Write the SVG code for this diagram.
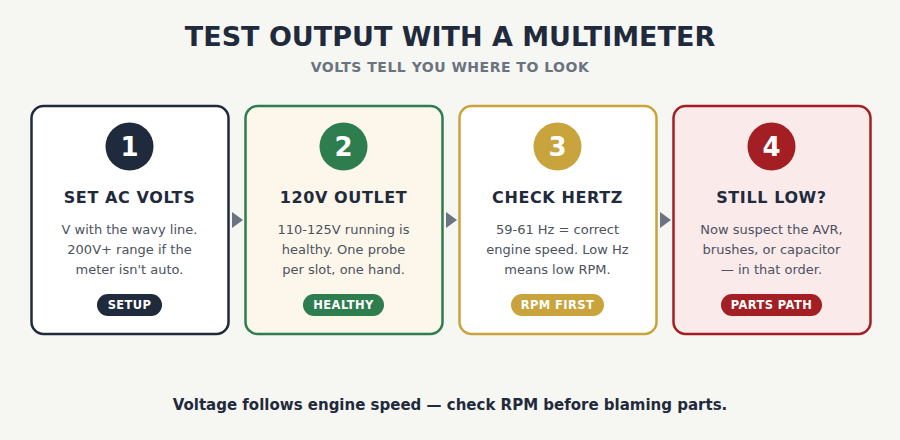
<svg xmlns="http://www.w3.org/2000/svg" width="900" height="440" viewBox="0 0 900 440">
<defs>
<style>
.bg{fill:#f6f6f2}
.title{font-family:"DejaVu Sans",sans-serif;font-weight:bold;font-size:27px;fill:#1f2a3c;text-anchor:middle}
.sub{font-family:"DejaVu Sans",sans-serif;font-weight:bold;font-size:14px;letter-spacing:0.5px;fill:#6b7280;text-anchor:middle}
.card{stroke-width:2.5}
.num{font-family:"DejaVu Sans",sans-serif;font-weight:bold;font-size:26px;fill:#ffffff;text-anchor:middle}
.head{font-family:"DejaVu Sans",sans-serif;font-weight:bold;font-size:16px;letter-spacing:0.6px;fill:#1f2a3c;text-anchor:middle}
.body{font-family:"DejaVu Sans",sans-serif;font-size:13px;fill:#4b5260;text-anchor:middle}
.pilltxt{font-family:"DejaVu Sans",sans-serif;font-weight:bold;font-size:11.5px;letter-spacing:0.4px;fill:#ffffff;text-anchor:middle}
.arrow{fill:#6b7280}
.foot{font-family:"DejaVu Sans",sans-serif;font-weight:bold;font-size:15px;fill:#1f2a3c;text-anchor:middle}
</style>
</defs>
<rect class="bg" x="0" y="0" width="900" height="440"/>
<text class="title" x="450" y="46">TEST OUTPUT WITH A MULTIMETER</text>
<text class="sub" x="450" y="72">VOLTS TELL YOU WHERE TO LOOK</text>

<g id="connectors">
<polygon class="arrow" points="232,212 243,220 232,228"/>
<polygon class="arrow" points="446,212 457,220 446,228"/>
<polygon class="arrow" points="660,212 671,220 660,228"/>
</g>

<g id="step1">
<rect class="card" x="31.5" y="106" width="197" height="228" rx="12" fill="#ffffff" stroke="#1f2a3c"/>
<circle cx="129.5" cy="146.5" r="24" fill="#1f2a3c"/>
<text class="num" x="129.5" y="155.5">1</text>
<text class="head" x="129.5" y="203">SET AC VOLTS</text>
<text class="body" x="129.5" y="234">V with the wavy line.</text>
<text class="body" x="129.5" y="254">200V+ range if the</text>
<text class="body" x="129.5" y="274">meter isn't auto.</text>
<rect x="97" y="294" width="65" height="22" rx="11" fill="#1f2a3c"/>
<text class="pilltxt" x="129.5" y="309">SETUP</text>
</g>

<g id="step2">
<rect class="card" x="245.5" y="106" width="197" height="228" rx="12" fill="#fdf6ea" stroke="#2e7d4f"/>
<circle cx="343.5" cy="146.5" r="24" fill="#2e7d4f"/>
<text class="num" x="343.5" y="155.5">2</text>
<text class="head" x="343.5" y="203">120V OUTLET</text>
<text class="body" x="343.5" y="234">110-125V running is</text>
<text class="body" x="343.5" y="254">healthy. One probe</text>
<text class="body" x="343.5" y="274">per slot, one hand.</text>
<rect x="303" y="294" width="81" height="22" rx="11" fill="#2e7d4f"/>
<text class="pilltxt" x="343.5" y="309">HEALTHY</text>
</g>

<g id="step3">
<rect class="card" x="459.5" y="106" width="197" height="228" rx="12" fill="#ffffff" stroke="#c9a33b"/>
<circle cx="557.5" cy="146.5" r="24" fill="#c9a33b"/>
<text class="num" x="557.5" y="155.5">3</text>
<text class="head" x="557.5" y="203">CHECK HERTZ</text>
<text class="body" x="557.5" y="234">59-61 Hz = correct</text>
<text class="body" x="557.5" y="254">engine speed. Low Hz</text>
<text class="body" x="557.5" y="274">means low RPM.</text>
<rect x="511" y="294" width="93" height="22" rx="11" fill="#c9a33b"/>
<text class="pilltxt" x="557.5" y="309">RPM FIRST</text>
</g>

<g id="step4">
<rect class="card" x="673.5" y="106" width="197" height="228" rx="12" fill="#faeaea" stroke="#a31f24"/>
<circle cx="771.5" cy="146.5" r="24" fill="#a31f24"/>
<text class="num" x="771.5" y="155.5">4</text>
<text class="head" x="771.5" y="203">STILL LOW?</text>
<text class="body" x="771.5" y="234">Now suspect the AVR,</text>
<text class="body" x="771.5" y="254">brushes, or capacitor</text>
<text class="body" x="771.5" y="274">— in that order.</text>
<rect x="721" y="294" width="101" height="22" rx="11" fill="#a31f24"/>
<text class="pilltxt" x="771.5" y="309">PARTS PATH</text>
</g>

<text class="foot" x="450" y="410">Voltage follows engine speed — check RPM before blaming parts.</text>
</svg>
